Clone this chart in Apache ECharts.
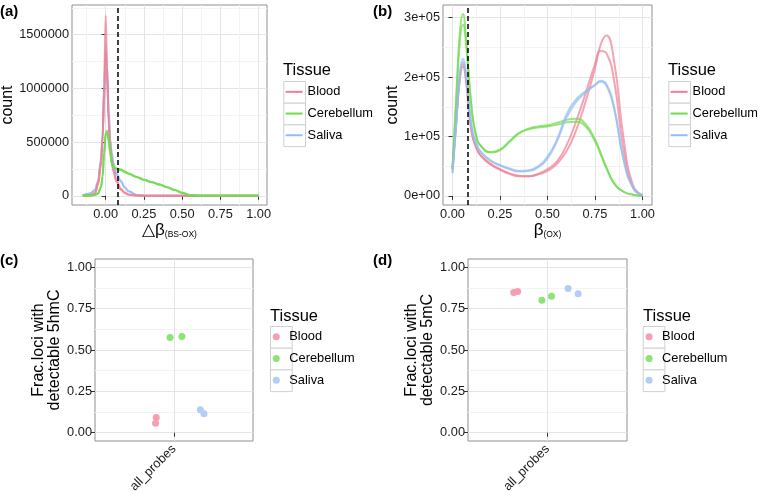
<!DOCTYPE html>
<html>
<head>
<meta charset="UTF-8">
<title>Tissue beta distributions</title>
<script src="https://cdn.jsdelivr.net/npm/echarts@6.0.0/dist/echarts.min.js"></script>
<style>
  html, body { margin: 0; padding: 0; background: #fff; }
  #main { width: 760px; height: 495px; }
</style>
</head>
<body>
<div id="main"></div>
<script>
// ---- data ----
const tissues = ['Blood', 'Cerebellum', 'Saliva'];
const cutoff = 0.08;

// (a) delta beta (BS-OX) density, two samples per tissue
const aX = [-0.15, -0.1, -0.07, -0.05, -0.03, -0.02, -0.01, 0, 0.01, 0.02, 0.03, 0.04, 0.05, 0.07, 0.1,
            0.125, 0.15, 0.2, 0.25, 0.3, 0.35, 0.4, 0.45, 0.5, 0.55, 0.6, 0.7, 0.8, 0.9, 1.0];
const aBlood1 = [0, 5e3, 15e3, 100e3, 280e3, 500e3, 1050e3, 1680e3, 1200e3, 650e3, 420e3, 310e3, 230e3, 130e3, 55e3,
                 25e3, 10e3, 2e3, 0, 0, 0, 0, 0, 0, 0, 0, 0, 0, 0, 0];
const aBlood2 = [0, 8e3, 25e3, 120e3, 320e3, 550e3, 950e3, 1330e3, 1100e3, 700e3, 470e3, 340e3, 260e3, 150e3, 65e3,
                 30e3, 12e3, 2e3, 0, 0, 0, 0, 0, 0, 0, 0, 0, 0, 0, 0];
const aCereb1 = [0, 2e3, 8e3, 20e3, 80e3, 180e3, 400e3, 590e3, 605e3, 520e3, 400e3, 300e3, 265e3, 255e3, 245e3,
                 225e3, 208e3, 178e3, 150e3, 128e3, 106e3, 82e3, 55e3, 28e3, 8e3, 1e3, 0, 0, 0, 0];
const aCereb2 = [0, 2e3, 8e3, 22e3, 85e3, 185e3, 390e3, 570e3, 585e3, 505e3, 395e3, 300e3, 262e3, 250e3, 240e3,
                 222e3, 205e3, 175e3, 148e3, 126e3, 104e3, 80e3, 54e3, 27e3, 8e3, 1e3, 0, 0, 0, 0];
const aSaliva1 = [3e3, 20e3, 50e3, 120e3, 330e3, 580e3, 1000e3, 1420e3, 1200e3, 800e3, 520e3, 390e3, 300e3, 200e3, 130e3,
                  75e3, 40e3, 8e3, 1e3, 0, 0, 0, 0, 0, 0, 0, 0, 0, 0, 0];
const aSaliva2 = [3e3, 22e3, 55e3, 140e3, 350e3, 560e3, 880e3, 1150e3, 1050e3, 760e3, 520e3, 400e3, 310e3, 210e3, 140e3,
                  80e3, 45e3, 9e3, 1e3, 0, 0, 0, 0, 0, 0, 0, 0, 0, 0, 0];

// (b) beta (OX) density
const bX = [0, 0.02, 0.04, 0.055, 0.07, 0.1, 0.125, 0.15, 0.2, 0.25, 0.3, 0.35, 0.4, 0.45, 0.5,
            0.55, 0.6, 0.65, 0.7, 0.75, 0.78, 0.81, 0.85, 0.9, 0.95, 1.0];
const bBlood1 = [45e3, 130e3, 205e3, 222e3, 200e3, 110e3, 82e3, 68e3, 54e3, 45e3, 38e3, 34e3, 33e3, 36e3, 42e3,
                 54e3, 75e3, 110e3, 158e3, 215e3, 255e3, 270e3, 228e3, 98e3, 18e3, 1e3];
const bBlood2 = [45e3, 128e3, 200e3, 218e3, 196e3, 108e3, 80e3, 67e3, 53e3, 44e3, 37e3, 33e3, 33e3, 37e3, 45e3,
                 58e3, 85e3, 125e3, 172e3, 222e3, 244e3, 240e3, 195e3, 78e3, 14e3, 1e3];
const bCereb1 = [48e3, 170e3, 280e3, 306e3, 270e3, 150e3, 100e3, 84e3, 73e3, 77e3, 91e3, 105e3, 113e3, 117e3, 119e3,
                 123e3, 128e3, 130e3, 121e3, 95e3, 72e3, 48e3, 22e3, 7e3, 2e3, 0];
const bCereb2 = [45e3, 160e3, 265e3, 288e3, 260e3, 148e3, 100e3, 84e3, 74e3, 78e3, 92e3, 106e3, 112e3, 115e3, 117e3,
                 120e3, 124e3, 125e3, 117e3, 92e3, 70e3, 47e3, 21e3, 7e3, 2e3, 0];
const bSaliva1 = [38e3, 125e3, 210e3, 231e3, 210e3, 118e3, 88e3, 74e3, 60e3, 52e3, 46e3, 42e3, 43e3, 50e3, 66e3,
                  95e3, 137e3, 162e3, 176e3, 187e3, 194e3, 188e3, 150e3, 62e3, 14e3, 1e3];
const bSaliva2 = [40e3, 122e3, 205e3, 226e3, 206e3, 116e3, 87e3, 73e3, 59e3, 51e3, 45e3, 41e3, 42e3, 48e3, 63e3,
                  92e3, 132e3, 158e3, 174e3, 186e3, 192e3, 186e3, 148e3, 62e3, 15e3, 1e3];

// (c) fraction of loci with detectable 5hmC (x = jittered position around all_probes)
const cBloodX = [0.865, 0.86],  cBloodY = [0.092, 0.058];
const cCerebX = [0.97, 1.06],   cCerebY = [0.575, 0.581];
const cSalivaX = [1.20, 1.228], cSalivaY = [0.139, 0.115];

// (d) fraction of loci with detectable 5mC
const dBloodX = [0.745, 0.775], dBloodY = [0.848, 0.854];
const dCerebX = [0.958, 1.03],  dCerebY = [0.80, 0.825];
const dSalivaX = [1.155, 1.231], dSalivaY = [0.872, 0.84];

// ticks
const aXTicks = [0, 0.25, 0.5, 0.75, 1];
const aYTicks = [0, 500000, 1000000, 1500000];
const bXTicks = [0, 0.25, 0.5, 0.75, 1];
const bYTicks = [0, 100000, 200000, 300000];
const fracTicks = [0, 0.25, 0.5, 0.75, 1];
const probeCats = ['all_probes'];

// ---- styling ----
const FONT = 'Liberation Sans, Arial, Helvetica, sans-serif';
const lineCol = { Blood: '#f07f93', Cerebellum: '#6fdc50', Saliva: '#96bdf0' };
const dotCol = { Blood: '#f59fb0', Cerebellum: '#8ce476', Saliva: '#b3cdf4' };

const zip = (xs, ys) => xs.map((x, i) => [x, ys[i]]);

function valAxis(grid, min, max, step, ticks, fmt, extra) {
  return Object.assign({
    type: 'value', gridIndex: grid, min: min, max: max,
    minInterval: step, maxInterval: step,
    axisLine: { show: false },
    axisTick: { show: true, length: 4, customValues: ticks, lineStyle: { color: '#333' } },
    axisLabel: { customValues: ticks, formatter: fmt, color: '#1a1a1a', fontSize: 12.8,
                 fontFamily: FONT, margin: 3, showMinLabel: true, showMaxLabel: true },
    splitLine: { show: true, lineStyle: { color: '#e4e4e4', width: 1 } },
    minorTick: { show: false, splitNumber: 2 },
    minorSplitLine: { show: true, lineStyle: { color: '#f3f3f3', width: 1 } },
    nameTextStyle: { fontSize: 16, fontFamily: FONT, color: '#000' }
  }, extra || {});
}

// a: sharp peaks, keep monotone smoothing; b: broad curves, plain smoothing
function curve(name, grid, xs, ys, opacity) {
  const s = {
    name: name, type: 'line', xAxisIndex: grid, yAxisIndex: grid,
    data: zip(xs, ys), showSymbol: false,
    itemStyle: { color: lineCol[name] },
    lineStyle: { color: lineCol[name], width: 2, opacity: opacity },
    silent: true
  };
  if (grid === 0) { s.smooth = 0.35; s.smoothMonotone = 'x'; } else { s.smooth = 0.5; }
  return s;
}

function dots(name, grid, xs, ys) {
  return {
    name: name, type: 'scatter', xAxisIndex: grid, yAxisIndex: grid,
    data: zip(xs, ys), symbolSize: 7,
    itemStyle: { color: dotCol[name], opacity: 1 }
  };
}

function cutLine() {
  return {
    silent: true, symbol: ['none', 'none'], label: { show: false },
    lineStyle: { color: '#000', type: [5, 3], width: 1.5 },
    data: [{ xAxis: cutoff }]
  };
}

function legend(left, top, icon, w, h, cols) {
  return {
    orient: 'vertical', left: left, top: top, padding: 0, itemGap: 0,
    itemWidth: w, itemHeight: h, icon: icon, selectedMode: false,
    textStyle: { fontSize: 12.8, fontFamily: FONT, color: '#000', lineHeight: 21.7 },
    data: tissues.map(t => ({ name: t, itemStyle: { color: cols[t] } }))
  };
}

function keyBoxes(x, y) {
  return tissues.map((t, i) => ({
    type: 'rect', left: x, top: y + i * 21.7,
    shape: { width: 21.7, height: 21.7 },
    style: { fill: '#fff', stroke: '#cdd1d4', lineWidth: 1 }
  }));
}

const panelTitle = (txt, left, top) => ({
  text: txt, left: left, top: top, padding: 0,
  textStyle: { fontSize: 15, fontWeight: 'bold', fontFamily: FONT, color: '#000' }
});
const legendTitle = (left, top) => ({
  text: 'Tissue', left: left, top: top, padding: 0,
  textStyle: { fontSize: 16.5, fontWeight: 'normal', fontFamily: FONT, color: '#000' }
});

const two = v => v.toFixed(2);
const sci = v => v.toExponential(0).replace('e+', 'e+0').replace('e-', 'e-0');
const plain = v => String(v);

const chart = echarts.init(document.getElementById('main'), null, { renderer: 'canvas' });

const option = {
  backgroundColor: '#fff',
  animation: false,
  title: [
    panelTitle('(a)', 0, 4), panelTitle('(b)', 373, 4),
    panelTitle('(c)', 0, 253), panelTitle('(d)', 373, 253),
    legendTitle(283, 62), legendTitle(668, 62),
    legendTitle(270, 308), legendTitle(643, 308)
  ],
  grid: [
    { left: 72, top: 5, width: 195, height: 200 },
    { left: 443, top: 5, width: 209, height: 200 },
    { left: 95, top: 259, width: 158, height: 182 },
    { left: 468, top: 259, width: 159, height: 182 }
  ].map(g => Object.assign(g, { show: true, borderColor: '#8c8f92', borderWidth: 1,
                                 backgroundColor: '#fff', outerBoundsMode: 'none', containLabel: false })),
  xAxis: [
    valAxis(0, -0.22, 1.055, 0.25, aXTicks, two, {
      name: '{t|△β}{s|(BS-OX)}', nameLocation: 'middle', nameGap: 16,
      nameTextStyle: { fontFamily: FONT, color: '#000', rich: {
        t: { fontSize: 17, fontFamily: FONT, color: '#000' },
        s: { fontSize: 8.5, fontFamily: FONT, color: '#000', padding: [9, 0, 0, 0] } } }
    }),
    valAxis(1, -0.05, 1.05, 0.25, bXTicks, two, {
      name: '{t|β}{s|(OX)}', nameLocation: 'middle', nameGap: 16,
      nameTextStyle: { fontFamily: FONT, color: '#000', rich: {
        t: { fontSize: 17, fontFamily: FONT, color: '#000' },
        s: { fontSize: 8.5, fontFamily: FONT, color: '#000', padding: [9, 0, 0, 0] } } }
    }),
    valAxis(2, 0.4, 1.6, 1, [1], () => probeCats[0], {
      axisLabel: { customValues: [1], formatter: () => probeCats[0], rotate: 45, color: '#1a1a1a',
                   fontSize: 12.8, fontFamily: FONT, margin: 6 },
      minorSplitLine: { show: false }
    }),
    valAxis(3, 0.4, 1.6, 1, [1], () => probeCats[0], {
      axisLabel: { customValues: [1], formatter: () => probeCats[0], rotate: 45, color: '#1a1a1a',
                   fontSize: 12.8, fontFamily: FONT, margin: 6 },
      minorSplitLine: { show: false }
    })
  ],
  yAxis: [
    valAxis(0, -86000, 1776000, 500000, aYTicks, plain, { name: 'count', nameLocation: 'middle', nameGap: 48 }),
    valAxis(1, -15300, 321300, 100000, bYTicks, sci, { name: 'count', nameLocation: 'middle', nameGap: 41 }),
    valAxis(2, -0.05, 1.05, 0.25, fracTicks, two, {
      name: 'Frac.loci with\ndetectable 5hmC', nameLocation: 'middle', nameGap: 32,
      nameTextStyle: { fontSize: 16, fontFamily: FONT, color: '#000', lineHeight: 16 }
    }),
    valAxis(3, -0.05, 1.05, 0.25, fracTicks, two, {
      name: 'Frac.loci with\ndetectable 5mC', nameLocation: 'middle', nameGap: 32,
      nameTextStyle: { fontSize: 16, fontFamily: FONT, color: '#000', lineHeight: 16 }
    })
  ],
  legend: [
    legend(285.6, 81, 'rect', 17, 2, lineCol),
    legend(670.6, 81, 'rect', 17, 2, lineCol),
    legend(272.8, 326, 'circle', 16, 7, dotCol),
    legend(645.6, 326, 'circle', 16, 7, dotCol)
  ],
  graphic: [].concat(keyBoxes(283.3, 81), keyBoxes(668.3, 81), keyBoxes(270, 326), keyBoxes(642.7, 326)),
  series: [
    Object.assign(curve('Saliva', 0, aX, aSaliva1, 0.75), { markLine: cutLine() }),
    curve('Saliva', 0, aX, aSaliva2, 0.75),
    curve('Blood', 0, aX, aBlood1, 0.75),
    curve('Blood', 0, aX, aBlood2, 0.75),
    curve('Cerebellum', 0, aX, aCereb1, 0.85),
    curve('Cerebellum', 0, aX, aCereb2, 0.85),

    Object.assign(curve('Blood', 1, bX, bBlood1, 0.7), { markLine: cutLine() }),
    curve('Blood', 1, bX, bBlood2, 0.7),
    curve('Cerebellum', 1, bX, bCereb1, 0.7),
    curve('Cerebellum', 1, bX, bCereb2, 0.7),
    curve('Saliva', 1, bX, bSaliva1, 0.7),
    curve('Saliva', 1, bX, bSaliva2, 0.7),

    dots('Blood', 2, cBloodX, cBloodY),
    dots('Cerebellum', 2, cCerebX, cCerebY),
    dots('Saliva', 2, cSalivaX, cSalivaY),
    dots('Blood', 3, dBloodX, dBloodY),
    dots('Cerebellum', 3, dCerebX, dCerebY),
    dots('Saliva', 3, dSalivaX, dSalivaY)
  ]
};

chart.setOption(option);
window.addEventListener('resize', () => chart.resize());
</script>
</body>
</html>
